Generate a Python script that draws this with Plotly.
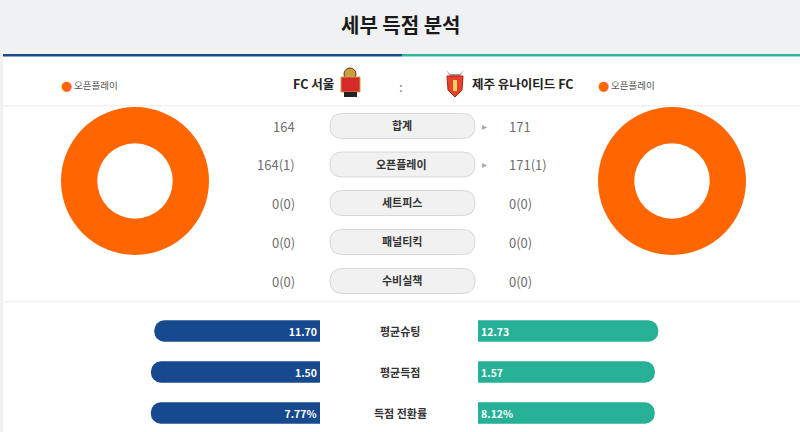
import plotly.graph_objects as go

W, H = 800, 432
FONT = "Noto Sans CJK KR"

# ---------------- data ----------------
title = "세부 득점 분석"
home_team = "FC 서울"
away_team = "제주 유나이티드 FC"
legend_label = "오픈플레이"

goal_types = ["오픈플레이", "세트피스", "패널티킥", "수비실책"]
home_goals = [164, 0, 0, 0]
away_goals = [171, 0, 0, 0]
home_ranks = [1, 0, 0, 0]
away_ranks = [1, 0, 0, 0]
home_total = 164
away_total = 171
row_labels = ["합계", "오픈플레이", "세트피스", "패널티킥", "수비실책"]

stat_labels = ["평균슈팅", "평균득점", "득점 전환률"]
home_stats = [11.70, 1.50, 7.77]
away_stats = [12.73, 1.57, 8.12]
stat_suffix = ["", "", "%"]

pie_colors = ["#ff6600", "#1a4a8f", "#26b096", "#999999"]
BLUE = "#17498f"
TEAL = "#26b096"


def X(p):
    return p / W


def Y(p):
    return 1 - p / H


def txt(text, x, y, size, color, xanchor="center", family=FONT, yref="paper", yv=None):
    return dict(text=text, x=X(x), y=(Y(y) if yv is None else yv), xref="paper", yref=yref,
                xanchor=xanchor, yanchor="middle", showarrow=False,
                font=dict(size=size, color=color, family=family))


fig = go.Figure()

# ---------------- donuts ----------------
R = 74
for cx, vals in ((135, home_goals), (672, away_goals)):
    fig.add_trace(go.Pie(
        labels=goal_types, values=vals, hole=0.51, sort=False,
        marker=dict(colors=pie_colors, line=dict(width=0)),
        textinfo="none", showlegend=False, direction="clockwise",
        domain=dict(x=[X(cx - R), X(cx + R)], y=[Y(181 + R), Y(181 - R)]),
    ))

# ---------------- bottom bars ----------------
PXS = 346.0  # pixels per unit share
MAXR = 0.55
home_share = [h / (h + a) for h, a in zip(home_stats, away_stats)]
away_share = [a / (h + a) for h, a in zip(home_stats, away_stats)]
fmt = lambda v, s: f"{v:.2f}{s}"

fig.add_trace(go.Bar(
    x=home_share, y=list(range(len(stat_labels))), orientation="h",
    marker=dict(color=BLUE, cornerradius=11, line=dict(width=0)),
    width=0.52, text=[fmt(v, s) for v, s in zip(home_stats, stat_suffix)],
    textposition="inside", insidetextanchor="start", textangle=0,
    textfont=dict(color="white", size=11, family=FONT, weight="bold"),
    xaxis="x", yaxis="y", showlegend=False, hoverinfo="skip",
))
fig.add_trace(go.Bar(
    x=away_share, y=list(range(len(stat_labels))), orientation="h",
    marker=dict(color=TEAL, cornerradius=11, line=dict(width=0)),
    width=0.52, text=[fmt(v, s) for v, s in zip(away_stats, stat_suffix)],
    textposition="inside", insidetextanchor="start", textangle=0,
    textfont=dict(color="white", size=11, family=FONT, weight="bold"),
    xaxis="x2", yaxis="y", showlegend=False, hoverinfo="skip",
))

left_base, right_base = 320, 478
span = MAXR * PXS
y_top, row_h = 310.5, 41.0
y_range_bottom = -0.5 + (H - y_top) / row_h

ax_common = dict(showgrid=False, zeroline=False, showticklabels=False, fixedrange=True)
fig.update_layout(
    xaxis=dict(domain=[X(left_base - span), X(left_base)], range=[MAXR, 0], **ax_common),
    xaxis2=dict(domain=[X(right_base), X(right_base + span)], range=[0, MAXR], anchor="y", **ax_common),
    yaxis=dict(domain=[0, Y(y_top)], range=[y_range_bottom, -0.5], **ax_common),
)

shapes = []
ann = []

# page background pieces
shapes.append(dict(type="rect", xref="paper", yref="paper", x0=X(3), x1=X(800), y0=Y(432), y1=Y(54),
                   fillcolor="white", line=dict(width=0), layer="below"))
shapes.append(dict(type="rect", xref="paper", yref="paper", x0=X(3), x1=X(402), y0=Y(56.5), y1=Y(54),
                   fillcolor="#1c4b94", line=dict(width=0), layer="below"))
shapes.append(dict(type="rect", xref="paper", yref="paper", x0=X(402), x1=X(800), y0=Y(56.5), y1=Y(54),
                   fillcolor="#33b59c", line=dict(width=0), layer="below"))
for yy in (105, 301):
    shapes.append(dict(type="rect", xref="paper", yref="paper", x0=X(3), x1=X(800), y0=Y(yy + 1.5), y1=Y(yy),
                       fillcolor="#f1f2f4", line=dict(width=0), layer="below"))

ann.append(txt(f"<b>{title}</b>", 400, 25, 20, "#1a1a1a"))

# legends
for dx, tx in ((66, 72), (603, 609)):
    ann.append(txt("●", dx, 85.5, 13, pie_colors[0], family="DejaVu Sans"))
    ann.append(txt(legend_label, tx, 85.5, 9.5, "#555", xanchor="left"))

# team names
ann.append(txt(f"<b>{home_team}</b>", 336, 84, 12.5, "#222", xanchor="right"))
ann.append(txt(f"<b>{away_team}</b>", 470, 83, 12.5, "#222", xanchor="left"))
ann.append(txt(":", 401, 86, 13, "#777"))

# logos (approximate)
shapes += [
    dict(type="circle", xref="paper", yref="paper", x0=X(344), x1=X(356), y0=Y(80), y1=Y(68),
         fillcolor="#c9a040", line=dict(color="#7a2a10", width=1)),
    dict(type="rect", xref="paper", yref="paper", x0=X(341), x1=X(360), y0=Y(92), y1=Y(77),
         fillcolor="#d42a2a", line=dict(color="#c9a040", width=1)),
    dict(type="rect", xref="paper", yref="paper", x0=X(344), x1=X(357), y0=Y(97), y1=Y(92),
         fillcolor="#222", line=dict(width=0)),
    dict(type="path", xref="paper", yref="paper",
         path=f"M {X(446)} {Y(70)} L {X(450)} {Y(76)} L {X(460)} {Y(76)} L {X(464)} {Y(70)} L {X(460)} {Y(74)} L {X(450)} {Y(74)} Z",
         fillcolor="#999", line=dict(width=0)),
    dict(type="path", xref="paper", yref="paper",
         path=f"M {X(447)} {Y(76)} L {X(463)} {Y(76)} L {X(462)} {Y(90)} L {X(455)} {Y(97)} L {X(448)} {Y(90)} Z",
         fillcolor="#e8402a", line=dict(color="#b02010", width=1)),
    dict(type="rect", xref="paper", yref="paper", x0=X(453), x1=X(457), y0=Y(91), y1=Y(80),
         fillcolor="#f5d060", line=dict(width=0)),
]

# middle table
row_y = [126, 164.5, 203, 242, 281]
left_vals = [str(home_total)] + [f"{g}({r})" for g, r in zip(home_goals, home_ranks)]
right_vals = [str(away_total)] + [f"{g}({r})" for g, r in zip(away_goals, away_ranks)]
left_num = [home_total] + home_goals
right_num = [away_total] + away_goals
for i, yy in enumerate(row_y):
    x0, x1, h2, rr = 330, 475, 12.5, 12.5
    path = (f"M {X(x0 + rr)} {Y(yy - h2)} L {X(x1 - rr)} {Y(yy - h2)} "
            f"Q {X(x1)} {Y(yy - h2)} {X(x1)} {Y(yy)} Q {X(x1)} {Y(yy + h2)} {X(x1 - rr)} {Y(yy + h2)} "
            f"L {X(x0 + rr)} {Y(yy + h2)} Q {X(x0)} {Y(yy + h2)} {X(x0)} {Y(yy)} "
            f"Q {X(x0)} {Y(yy - h2)} {X(x0 + rr)} {Y(yy - h2)} Z")
    shapes.append(dict(type="path", xref="paper", yref="paper", path=path,
                       fillcolor="#f1f1f1", line=dict(color="#d8d8d8", width=1)))
    ann.append(txt(f"<b>{row_labels[i]}</b>", 402, yy - 1, 11, "#333"))
    ann.append(txt(left_vals[i], 297, yy, 13, "#6e6e6e", xanchor="right"))
    ann.append(txt(right_vals[i], 507, yy, 13, "#6e6e6e", xanchor="left"))
    if right_num[i] > left_num[i]:
        ann.append(txt("▸", 484, yy, 10, "#aaa", family="DejaVu Sans"))
    elif left_num[i] > right_num[i]:
        ann.append(txt("◂", 320, yy, 10, "#aaa", family="DejaVu Sans"))

# bar labels
for i, lab in enumerate(stat_labels):
    ann.append(txt(f"<b>{lab}</b>", 400, 0, 11, "#333", yref="y", yv=i))

fig.update_layout(
    width=W, height=H, margin=dict(l=0, r=0, t=0, b=0),
    paper_bgcolor="#f0f1f3", plot_bgcolor="rgba(0,0,0,0)",
    barmode="overlay", shapes=shapes, annotations=ann, showlegend=False,
    font=dict(family=FONT),
)

fig.write_html("out.html")
